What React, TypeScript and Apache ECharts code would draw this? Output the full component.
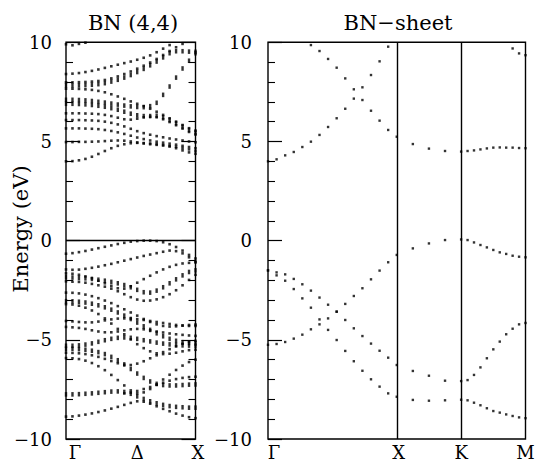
import React, { useEffect, useRef } from "react";
import * as echarts from "echarts";

// ---------- BN (4,4) nanotube: k index from Γ (0) to X (20) ----------
const tubeK = [0, 1, 2, 3, 4, 5, 6, 7, 8, 9, 10, 11, 12, 13, 14, 15, 16, 17, 18, 19, 20];
const tubeLabels: Record<number, string> = { 0: "Γ", 10: "Δ", 20: "X" };

const tubeCZ = [9.9, 9.85, 9.92, 9.98, null, null, null, null, null, null, null, null, null, null, null, null, null, null, null, null, null];
const tubeCA = [8.4, 8.42, 8.45, 8.5, 8.56, 8.63, 8.71, 8.79, 8.87, 8.95, 9.03, 9.12, 9.22, 9.34, 9.5, 9.68, 9.86, null, null, null, null];
const tubeCB1 = [7.98, 7.98, 7.99, 8.0, 8.02, 8.05, 8.1, 8.18, 8.28, 8.4, 8.53, 8.67, 8.82, 8.98, 9.16, 9.36, 9.56, 9.75, 9.92, null, null];
const tubeCB2 = [7.82, 7.82, 7.83, 7.84, 7.86, 7.89, 7.94, 8.02, 8.11, 8.22, 8.35, 8.5, 8.66, 8.84, 9.03, 9.24, 9.45, 9.55, 9.55, 9.53, 9.52];
const tubeCB3 = [7.66, 7.66, 7.65, 7.63, 7.6, 7.55, 7.48, 7.38, 7.27, 7.15, 7.02, 6.9, 6.78, 6.65, 6.5, 6.34, 6.17, 6.0, 5.83, 5.67, 5.55];
const tubeCC1 = [7.1, 7.1, 7.09, 7.07, 7.04, 7.0, 6.96, 6.91, 6.86, 6.81, 6.77, 6.74, 6.73, 6.78, 6.95, 7.35, 7.77, 8.22, 8.68, 9.07, 9.45];
const tubeCC2 = [6.9, 6.9, 6.89, 6.87, 6.84, 6.8, 6.75, 6.68, 6.6, 6.5, 6.4, 6.32, 6.28, 6.28, 6.3, 6.22, 6.08, 5.92, 5.75, 5.58, 5.45];
const tubeCD = [6.42, 6.42, 6.42, 6.41, 6.4, 6.38, 6.34, 6.28, 6.2, 6.12, 6.1, 6.15, 6.22, 6.25, 6.22, 6.12, 5.98, 5.82, 5.65, 5.48, 5.35];
const tubeCE = [6.08, 6.08, 6.08, 6.07, 6.06, 6.04, 6.0, 5.94, 5.86, 5.76, 5.64, 5.52, 5.42, 5.34, 5.27, 5.21, 5.15, 5.1, 5.05, 5.0, 4.96];
const tubeCF = [5.66, 5.66, 5.66, 5.65, 5.64, 5.62, 5.58, 5.53, 5.46, 5.38, 5.29, 5.2, 5.12, 5.05, 4.99, 4.94, 4.89, 4.84, 4.78, 4.72, 4.66];
const tubeCG = [4.97, 4.97, 4.98, 4.98, 4.99, 5.0, 5.02, 5.04, 5.05, 5.04, 5.0, 4.95, 4.9, 4.86, 4.83, 4.8, 4.77, 4.73, 4.67, 4.6, 4.52];
const tubeC1 = [4.0, 4.01, 4.05, 4.12, 4.23, 4.37, 4.52, 4.66, 4.78, 4.86, 4.91, 4.93, 4.92, 4.9, 4.87, 4.82, 4.75, 4.66, 4.55, 4.45, 4.38];

const tubeVA = [-0.66, -0.63, -0.58, -0.52, -0.45, -0.38, -0.31, -0.24, -0.17, -0.11, -0.05, -0.02, 0.0, 0.0, -0.02, -0.08, -0.18, -0.32, -0.5, -0.72, -0.9];
const tubeVB = [-1.45, -1.47, -1.46, -1.42, -1.37, -1.31, -1.24, -1.17, -1.09, -1.01, -0.93, -0.85, -0.77, -0.7, -0.63, -0.56, -0.5, -0.53, -0.64, -0.84, -1.05];
const tubeVC = [-1.65, -1.67, -1.72, -1.8, -1.9, -2.02, -2.15, -2.28, -2.4, -2.42, -2.3, -2.12, -1.94, -1.77, -1.6, -1.45, -1.32, -1.22, -1.15, -1.12, -1.1];
const tubeVC2 = [-1.85, -1.86, -1.88, -1.9, -1.93, -1.97, -2.02, -2.08, -2.15, -2.24, -2.35, -2.48, -2.6, -2.62, -2.52, -2.35, -2.15, -1.95, -1.75, -1.58, -1.5];
const tubeVD = [-2.05, -2.07, -2.08, -2.12, -2.18, -2.25, -2.32, -2.42, -2.55, -2.7, -2.85, -2.97, -3.03, -3.02, -2.96, -2.85, -2.7, -2.5, -2.25, -1.98, -1.72];
const tubeVE = [-2.62, -2.63, -2.66, -2.72, -2.8, -2.9, -3.02, -3.15, -3.3, -3.46, -3.62, -3.78, -3.95, -4.1, -4.22, -4.3, -4.33, -4.32, -4.28, -4.25, -4.23];
const tubeVF = [-3.05, -3.06, -3.08, -3.12, -3.18, -3.26, -3.36, -3.48, -3.62, -3.78, -3.95, -4.13, -4.32, -4.5, -4.67, -4.82, -4.95, -5.05, -5.12, -5.16, -5.18];
const tubeVG = [-3.2, -3.22, -3.28, -3.38, -3.52, -3.7, -3.92, -4.18, -4.45, -4.72, -4.98, -5.22, -5.42, -5.58, -5.68, -5.72, -5.7, -5.65, -5.58, -5.52, -5.5];
const tubeVH = [-4.05, -4.07, -4.1, -4.12, -4.12, -4.08, -4.02, -3.97, -3.93, -3.92, -3.93, -3.96, -4.0, -4.05, -4.1, -4.15, -4.2, -4.25, -4.28, -4.3, -4.3];
const tubeVI = [-4.35, -4.37, -4.4, -4.45, -4.52, -4.58, -4.62, -4.62, -4.58, -4.52, -4.47, -4.45, -4.47, -4.52, -4.58, -4.63, -4.68, -4.72, -4.75, -4.78, -4.8];
const tubeVK = [-5.3, -5.3, -5.28, -5.24, -5.18, -5.1, -5.02, -4.95, -4.9, -4.88, -4.9, -4.95, -5.02, -5.08, -5.14, -5.19, -5.23, -5.26, -5.28, -5.29, -5.3];
const tubeVJ = [-5.45, -5.45, -5.47, -5.5, -5.55, -5.62, -5.72, -5.86, -6.03, -6.24, -6.47, -6.7, -6.92, -7.1, -7.22, -7.28, -7.3, -7.3, -7.28, -7.26, -7.25];
const tubeVL = [-5.65, -5.66, -5.68, -5.72, -5.78, -5.86, -5.96, -6.07, -6.18, -6.26, -6.27, -6.2, -6.08, -5.93, -5.78, -5.62, -5.47, -5.33, -5.2, -5.1, -5.05];
const tubeVM = [-5.92, -5.93, -5.97, -6.05, -6.17, -6.33, -6.53, -6.77, -7.03, -7.3, -7.55, -7.7, -7.65, -7.48, -7.25, -7.0, -6.76, -6.52, -6.3, -6.12, -6.0];
const tubeVN = [-7.75, -7.75, -7.74, -7.72, -7.7, -7.67, -7.64, -7.61, -7.6, -7.63, -7.72, -7.85, -7.98, -8.1, -8.2, -8.28, -8.34, -8.38, -8.4, -8.42, -8.42];
const tubeVP = [null, null, null, null, null, null, null, null, null, -7.7, -7.66, -7.58, -7.48, -7.38, -7.27, -7.16, -7.06, -6.98, -6.92, -6.88, -6.86];
const tubeVO = [-8.87, -8.86, -8.82, -8.77, -8.71, -8.64, -8.56, -8.47, -8.38, -8.28, -8.18, -8.1, -8.12, -8.22, -8.35, -8.48, -8.6, -8.72, -8.82, -8.9, -8.95];

const tubeBands = [tubeCZ, tubeCA, tubeCB1, tubeCB2, tubeCB3, tubeCC1, tubeCC2, tubeCD, tubeCE, tubeCF, tubeCG, tubeC1,
  tubeVA, tubeVB, tubeVC, tubeVC2, tubeVD, tubeVE, tubeVF, tubeVG, tubeVH, tubeVI, tubeVK, tubeVJ, tubeVL, tubeVM, tubeVN, tubeVP, tubeVO];
const tubeDoubled = [tubeCB2, tubeCC1, tubeCC2, tubeVC2, tubeVF, tubeVJ, tubeVK, tubeVN];

// ---------- BN sheet: Γ=0, X=2, K=3, M=4 ----------
const sheetK = [0, 0.1333, 0.2667, 0.4, 0.5333, 0.6667, 0.8, 0.9333, 1.0667, 1.2, 1.3333, 1.4667, 1.6, 1.7333, 1.8667, 2,
  2.25, 2.5, 2.75, 3, 3.1, 3.2, 3.3, 3.4, 3.5, 3.6, 3.7, 3.8, 3.9, 4];
const sheetLabels: Record<number, string> = { 0: "Γ", 2: "X", 3: "K", 4: "M" };

const sheetC1 = [4.0, 4.1, 4.3, 4.47, 4.72, 4.99, 5.33, 5.73, 6.17, 6.65, 7.16, 7.73, 8.35, 9.04, 9.78, null,
  null, null, null, null, null, null, null, null, null, null, null, 9.69, 9.44, 9.35];
const sheetC2 = [null, null, null, null, null, 9.86, 9.56, 9.16, 8.72, 8.18, 7.63, 7.09, 6.55, 6.05, 5.58, 5.24,
  4.87, 4.64, 4.52, 4.49, 4.52, 4.55, 4.6, 4.65, 4.69, 4.7, 4.69, 4.69, 4.67, 4.66];
const sheetV1 = [-5.25, -5.21, -5.11, -4.94, -4.74, -4.47, -4.22, -3.92, -3.58, -3.19, -2.79, -2.4, -1.95, -1.51, -1.09, -0.72,
  -0.39, -0.14, 0.03, 0.06, 0.03, -0.09, -0.22, -0.34, -0.47, -0.59, -0.67, -0.76, -0.81, -0.84];
const sheetV2 = [-1.5, -1.6, -1.7, -1.93, -2.2, -2.52, -2.87, -3.23, -3.58, -4.0, -4.42, -4.81, -5.19, -5.55, -5.9, -6.27,
  -6.57, -6.81, -7.06, -7.08, -7.03, -6.77, -6.39, -5.93, -5.48, -5.09, -4.72, -4.44, -4.22, -4.15];
const sheetV3 = [-1.5, -1.75, -2.02, -2.44, -2.91, -3.38, -3.97, -4.5, -5.01, -5.56, -6.08, -6.56, -6.99, -7.36, -7.7, -7.87,
  -8.03, -8.07, -8.05, -8.02, -8.05, -8.17, -8.3, -8.45, -8.59, -8.67, -8.76, -8.84, -8.91, -8.95];
const sheetBands = [sheetC1, sheetC2, sheetV1, sheetV2, sheetV3];

const yTicks = [-10, -5, 0, 5, 10];

const SERIF = "DejaVu Serif";

function fmtY(v: number) {
  return v < 0 ? "\u2212" + Math.abs(v) : String(v);
}

export default function App() {
  const ref = useRef<HTMLDivElement>(null);
  useEffect(() => {
    if (!ref.current) return;
    const chart = echarts.init(ref.current, undefined, { renderer: "svg" });

    const grids = [
      { left: 66, top: 42.3, width: 129.5, height: 396.7, show: true, borderColor: "#000", borderWidth: 1.4 },
      { left: 268, top: 42.3, width: 257.5, height: 396.7, show: true, borderColor: "#000", borderWidth: 1.4 },
    ];

    const yBase = (gridIndex: number, position: "left" | "right", showLabel: boolean, margin: number) => ({
      type: "value",
      gridIndex,
      position,
      min: yTicks[0],
      max: yTicks[yTicks.length - 1],
      interval: 5,
      axisLine: { show: false },
      splitLine: { show: false },
      axisTick: { show: true, inside: true, length: 14, lineStyle: { color: "#000", width: 1.2 } },
      minorTick: { show: true, splitNumber: 5, length: 7, lineStyle: { color: "#000", width: 1.1 } },
      axisLabel: {
        show: showLabel,
        margin,
        formatter: fmtY,
        color: "#000",
        fontFamily: SERIF,
        fontSize: 18,
      },
    });

    const richShift = (pads: Record<string, number>) => {
      const r: any = {};
      Object.keys(pads).forEach((k) => {
        r[k] = { fontFamily: SERIF, fontSize: 18, color: "#000", padding: [0, 0, 0, pads[k]] };
      });
      return r;
    };

    const xAxes = [
      {
        type: "value",
        gridIndex: 0,
        min: 0,
        max: 20,
        interval: 10,
        axisLine: { show: false },
        axisTick: { show: false },
        splitLine: { show: false },
        axisLabel: {
          margin: 4,
          formatter: (v: number) => {
            const t = tubeLabels[v];
            if (!t) return "";
            return v === 0 ? `{a|${t}}` : v === 10 ? `{b|${t}}` : `{c|${t}}`;
          },
          rich: richShift({ a: 18, b: 13, c: 5 }),
        },
      },
      {
        type: "value",
        gridIndex: 1,
        min: 0,
        max: 4,
        interval: 1,
        axisLine: { show: false },
        axisTick: { show: false },
        splitLine: { show: false },
        axisLabel: {
          margin: 4,
          formatter: (v: number) => {
            const t = sheetLabels[v];
            if (!t) return "";
            return v === 0 ? `{a|${t}}` : v === 2 ? `{b|${t}}` : `{c|${t}}`;
          },
          rich: richShift({ a: 12, b: 4, c: 0 }),
        },
      },
    ];

    const yAxes = [
      yBase(0, "left", true, 14),
      yBase(0, "right", false, 8),
      yBase(1, "left", true, 16),
    ];

    const series: any[] = [];
    tubeBands.forEach((band, bi) => {
      const doubled = tubeDoubled.includes(band);
      series.push({
        type: "scatter",
        xAxisIndex: 0,
        yAxisIndex: 0,
        silent: true,
        symbol: "rect",
        symbolSize: doubled ? [2.4, 4.6] : [2.6, 2.6],
        itemStyle: { color: "#000" },
        data: tubeK.map((k, i) => [k, band[i]]).filter((p) => p[1] !== null),
        ...(bi === 0
          ? {
              markLine: {
                silent: true,
                symbol: ["none", "none"],
                label: { show: false },
                lineStyle: { color: "#000", width: 1.4, type: "solid" },
                data: [{ yAxis: 0 }],
              },
            }
          : {}),
      });
    });
    sheetBands.forEach((band, bi) => {
      series.push({
        type: "scatter",
        xAxisIndex: 1,
        yAxisIndex: 2,
        silent: true,
        symbol: "rect",
        symbolSize: 2.4,
        itemStyle: { color: "#000" },
        data: sheetK.map((k, i) => [k, band[i]]).filter((p) => p[1] !== null),
        ...(bi === 0
          ? {
              markLine: {
                silent: true,
                symbol: ["none", "none"],
                label: { show: false },
                lineStyle: { color: "#000", width: 1.4, type: "solid" },
                data: [{ xAxis: 2 }, { xAxis: 3 }],
              },
            }
          : {}),
      });
    });

    chart.setOption({
      animation: false,
      backgroundColor: "#fff",
      grid: grids,
      xAxis: xAxes,
      yAxis: yAxes,
      series,
      graphic: [
        {
          type: "text",
          x: 133,
          y: 23,
          style: { text: "BN (4,4)", fontFamily: SERIF, fontSize: 21, fill: "#000", textAlign: "center", textVerticalAlign: "middle" },
        },
        {
          type: "text",
          x: 398,
          y: 23,
          style: { text: "BN\u2212sheet", fontFamily: SERIF, fontSize: 21, fill: "#000", textAlign: "center", textVerticalAlign: "middle" },
        },
        {
          type: "text",
          x: 21,
          y: 229,
          rotation: Math.PI / 2,
          style: { text: "Energy (eV)", fontFamily: SERIF, fontSize: 21, fill: "#000", textAlign: "center", textVerticalAlign: "middle" },
        },
      ],
    });
    return () => chart.dispose();
  }, []);
  return <div ref={ref} style={{ position: "fixed", left: 0, top: 0, width: 538, height: 467 }} />;
}
